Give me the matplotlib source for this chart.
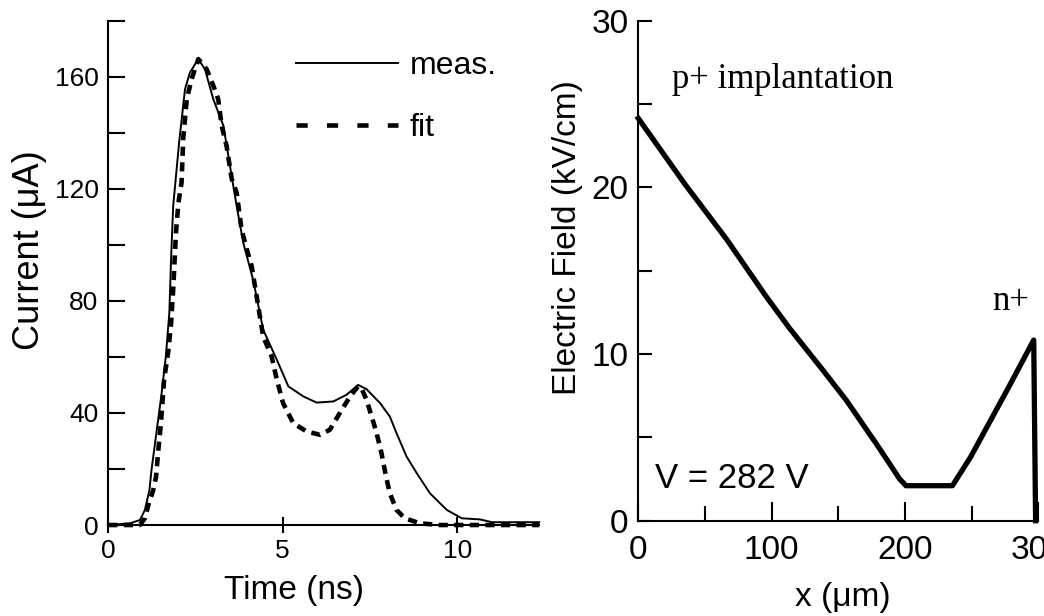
import matplotlib
matplotlib.use("Agg")
import matplotlib.pyplot as plt
from matplotlib.lines import Line2D

# ---- data: left panel (current pulse) ----
meas_t = [0, 0.62, 0.91, 1.05, 1.18, 1.24, 1.34, 1.43, 1.53, 1.65, 1.75, 1.80, 1.86, 2.03,
          2.20, 2.34, 2.58, 2.77, 3.01, 3.30, 3.49, 3.68, 3.87, 4.15, 4.44, 4.83, 5.16,
          5.59, 5.97, 6.45, 6.83, 7.16, 7.40, 7.79, 8.07, 8.26, 8.55, 8.84, 9.22, 9.70,
          10.13, 10.65, 11.0, 12.35]
meas_I = [0, 0.6, 1.8, 5.4, 12.5, 19.7, 29.2, 37.6, 47.1, 60.2, 75.7, 95, 113.8, 136.5,
          155.6, 161.5, 166.3, 162.7, 152, 142.5, 128, 113.8, 100.7, 87.6, 69.7, 59, 49.5,
          45.9, 43.7, 44.1, 46.5, 50, 48.5, 43.5, 38.7, 32.8, 24.4, 18.5, 11.3, 5.4,
          2.4, 2.0, 1.0, 1.0]

fit_t = [0, 0.9, 1.05, 1.15, 1.29, 1.37, 1.43, 1.51, 1.60, 1.72, 1.80, 1.86, 1.94, 2.01,
         2.10, 2.15, 2.25, 2.39, 2.58, 2.82, 3.01, 3.15, 3.25, 3.39, 3.54, 3.68, 3.82, 3.97,
         4.11, 4.44, 4.68, 4.83, 5.01, 5.30, 5.68, 6.07, 6.35, 6.69, 6.93, 7.16, 7.25, 7.40,
         7.55, 7.69, 7.83, 7.96, 8.07, 8.26, 8.50, 8.93, 9.5, 12.35]
fit_I = [0, 0, 2.4, 7.2, 12.5, 17.3, 26.2, 36.4, 51.9, 62, 72, 84, 104.3, 115,
         122.2, 138.3, 152, 159.2, 166.3, 162.7, 156.8, 152, 142.5, 135.3, 123.4, 118.6, 105.5, 98.4,
         92.4, 67.3, 60.2, 51.9, 43.5, 36.4, 33.4, 32.2, 34, 41.1, 45.9, 49.5, 49, 44.7,
         38.7, 32.8, 25.6, 17.3, 11.3, 5.4, 2.4, 0.6, 0, 0]

legend_labels = ["meas.", "fit"]
left_xticks = [0, 5, 10]
left_yticks = [0, 40, 80, 120, 160]
left_yminor = [20, 60, 100, 140, 180]

# ---- data: right panel (electric field) ----
field_x = [0, 34.9, 66.1, 96, 113.5, 138.4, 155.9, 178.3, 188.3, 195.7, 200.7, 235.6,
           249.4, 263, 278, 296.6, 298]
field_E = [24.14, 20.2, 16.9, 13.44, 11.54, 9.04, 7.24, 4.64, 3.44, 2.54, 2.1, 2.1,
           3.84, 5.84, 8.04, 10.84, 0]
right_xticks = [0, 100, 200, 300]
right_xminor = [50, 150, 250]
right_yticks = [0, 10, 20, 30]
right_yminor = [5, 15, 25]

plt.rcParams['font.family'] = ['Liberation Sans', 'DejaVu Sans']

fig = plt.figure(figsize=(10.44, 6.16), dpi=100)

# ---------- left panel ----------
ax1 = fig.add_axes([0.1037, 0.1477, 0.4128, 0.8187])
ax1.plot(meas_t, meas_I, color='black', lw=1.4, solid_joinstyle='round', clip_on=False)
ax1.plot(fit_t, fit_I, color='black', lw=3.3, dashes=(2.0, 1.4), clip_on=False)
ax1.set_xlim(0, 12.35)
ax1.set_ylim(0, 180)
for s in ['top', 'right']:
    ax1.spines[s].set_visible(False)
for s in ['left', 'bottom']:
    ax1.spines[s].set_linewidth(1.5)
ax1.set_xticks(left_xticks)
ax1.set_yticks(left_yticks)
ax1.set_yticks(left_yminor, minor=True)
ax1.tick_params(axis='x', direction='inout', length=12, width=1.5, labelsize=19, pad=4)
ax1.tick_params(axis='y', which='both', direction='in', length=12, width=1.5, labelsize=19, pad=7)
ax1.set_xlabel('Time (ns)', fontsize=24, va='center')
ax1.xaxis.set_label_coords(0.431, -0.129)
ax1.set_ylabel('Current (\u03bcA)', fontsize=26, va='center')
ax1.yaxis.set_label_coords(-0.182, 0.545)

h_meas = Line2D([], [], color='black', lw=1.4)
h_fit = Line2D([], [], color='black', lw=3.3, dashes=(2.44, 4.2))
ax1.legend([h_meas, h_fit], legend_labels, loc='upper left', bbox_to_anchor=(0.4355, 0.94),
           frameon=False, fontsize=23, handlelength=3.2, handletextpad=0.35,
           labelspacing=1.0, borderpad=0, borderaxespad=0)

# ---------- right panel ----------
ax2 = fig.add_axes([0.6114, 0.1547, 0.3831, 0.8117])
ax2.plot(field_x, field_E, color='black', lw=3.8, solid_joinstyle='round', clip_on=False)
ax2.set_xlim(0, 300)
ax2.set_ylim(0, 30)
for s in ['top', 'right']:
    ax2.spines[s].set_visible(False)
for s in ['left', 'bottom']:
    ax2.spines[s].set_linewidth(1.5)
ax2.set_xticks(right_xticks)
ax2.set_xticks(right_xminor, minor=True)
ax2.set_yticks(right_yticks)
ax2.set_yticks(right_yminor, minor=True)
ax2.tick_params(axis='x', which='major', direction='in', length=14, width=1.5, labelsize=24, pad=10)
ax2.tick_params(axis='x', which='minor', direction='in', length=11, width=1.5)
ax2.tick_params(axis='y', which='both', direction='in', length=10, width=1.5, labelsize=24, pad=7)
ax2.set_xlabel('x (\u03bcm)', fontsize=24, va='center')
ax2.xaxis.set_label_coords(0.512, -0.153)
ax2.set_ylabel('Electric Field (kV/cm)', fontsize=24, va='center')
ax2.yaxis.set_label_coords(-0.176, 0.566)

ax2.text(25, 25.94, 'p+ implantation', family='Liberation Serif', fontsize=25, va='baseline')
ax2.text(265.3, 12.64, 'n+', family='Liberation Serif', fontsize=25, va='baseline')
ax2.text(12.5, 1.94, 'V = 282 V', fontsize=25, va='baseline')

fig.savefig('out.png', dpi=100)
